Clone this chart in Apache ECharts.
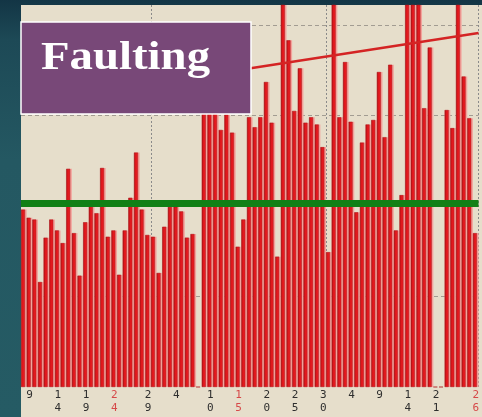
<!DOCTYPE html>
<html>
<head>
<meta charset="utf-8">
<script src="https://cdn.jsdelivr.net/npm/echarts@6/dist/echarts.min.js"></script>
<style>
html, body { margin: 0; padding: 0; }
body { background: linear-gradient(to bottom, #133545 0px, #1d4956 40px, #245862 160px, #255b64 417px); }
#chart { width: 482px; height: 417px; }
</style>
</head>
<body>
<div id="chart"></div>
<script>
// bar heights, one per day (values above 42 run off the top of the plot)
var barValues = [
  19.6, 18.7, 18.5, 11.6, 16.5, 18.5, 17.3, 15.9, 24.1, 17.0,
  12.3, 18.2, 20.1, 19.2, 24.2, 16.6, 17.3, 12.4, 17.3, 20.9,
  25.9, 19.6, 16.8, 16.6, 12.6, 17.7, 19.9, 19.9, 19.4, 16.5,
  16.9, 0, 35.0, 36.1, 32.3, 28.4, 30.1, 28.1, 15.5, 18.5,
  29.8, 28.7, 29.8, 33.7, 29.2, 14.4, 46, 38.3, 30.5, 35.2,
  29.2, 29.8, 29.0, 26.5, 14.9, 46, 29.8, 35.9, 29.3, 19.3,
  27.0, 29.0, 29.5, 34.8, 27.6, 35.6, 17.3, 21.2, 46, 46,
  46, 30.8, 37.5, 0, 0, 30.6, 28.6, 46, 34.3, 29.7,
  17.0
];
// date labels under the bars
var labelIdx = [1, 6, 11, 16, 22, 27, 33, 38, 43, 48, 53, 58, 63, 68, 73, 80];
var labelText = ['9', '1\n4', '1\n9', '2\n4', '2\n9', '4', '1\n0', '1\n5', '2\n0', '2\n5', '3\n0', '4', '9', '1\n4', '2\n1', '2\n6'];
var redIdx = [16, 38, 80];
var vLineIdx = [23, 54];
// mean level and trend line
var avgLevel = 20.3;
var trendX = [-0.5, 80.5];
var trendY = [31.3, 39.1];

var categories = barValues.map(function () { return ''; });
labelIdx.forEach(function (k, i) { categories[k] = labelText[i]; });

var myChart = echarts.init(document.getElementById('chart'));
var option = {
  animation: false,
  backgroundColor: 'transparent',
  grid: { left: 21, right: 0, top: 5, bottom: 30, containLabel: false },
  xAxis: [
    {
      type: 'category',
      data: categories,
      axisLine: { show: false },
      axisTick: { show: false },
      axisLabel: {
        interval: 0,
        margin: 2,
        fontFamily: 'DejaVu Sans Mono',
        fontSize: 11,
        lineHeight: 13,
        color: function (value, index) {
          return redIdx.indexOf(index) >= 0 ? '#d64848' : '#2e2e2e';
        }
      },
      splitLine: {
        show: true,
        interval: function (index) { return vLineIdx.indexOf(index) >= 0; },
        lineStyle: { color: '#8a8a8a', type: [2, 2], width: 1 }
      }
    },
    { type: 'value', min: trendX[0], max: trendX[1], show: false }
  ],
  yAxis: {
    type: 'value',
    min: 0,
    max: 42.2,
    interval: 10,
    axisLabel: { show: false },
    axisLine: { show: false },
    axisTick: { show: false },
    splitLine: {
      show: true,
      showMinLine: false,
      showMaxLine: false,
      lineStyle: { color: '#a29c92', type: [4, 3], width: 1 }
    }
  },
  graphic: [
    { type: 'rect', z: -10, shape: { x: 21, y: 5, width: 461, height: 412 }, style: { fill: '#e6decb' } },
    { type: 'rect', z: 100, shape: { x: 21, y: 22, width: 230, height: 92 }, style: { fill: '#784878', stroke: '#ffffff', lineWidth: 1.5 } },
    {
      type: 'text', z: 101, x: 41, y: 59, scaleX: 1.2,
      style: { text: 'Faulting', fill: '#ffffff', font: 'bold 39px "Liberation Serif", serif', verticalAlign: 'middle' }
    }
  ],
  series: [
    {
      name: 'value',
      type: 'bar',
      xAxisIndex: 0,
      data: barValues,
      barWidth: 4,
      barGap: '-100%',
      z: 3,
      itemStyle: {
        color: {
          type: 'linear', x: 0, y: 0, x2: 1, y2: 0,
          colorStops: [
            { offset: 0, color: '#961214' },
            { offset: 0.35, color: '#dc161b' },
            { offset: 1, color: '#ee2026' }
          ]
        },
        borderColor: '#a8161a',
        borderWidth: 0.5
      },
      markLine: {
        silent: true,
        symbol: 'none',
        label: { show: false },
        lineStyle: { color: '#118016', width: 7, type: 'solid' },
        data: [{ yAxis: avgLevel }]
      }
    },
    {
      name: 'halo',
      type: 'bar',
      xAxisIndex: 0,
      data: barValues,
      barWidth: '100%',
      barGap: '-100%',
      silent: true,
      z: 2,
      itemStyle: { color: '#f3a39c' }
    },
    {
      name: 'trend',
      type: 'line',
      xAxisIndex: 1,
      data: [[trendX[0], trendY[0]], [trendX[1], trendY[1]]],
      symbol: 'none',
      z: 4,
      lineStyle: { color: '#d42424', width: 2.5 }
    }
  ]
};
myChart.setOption(option);
</script>
</body>
</html>
